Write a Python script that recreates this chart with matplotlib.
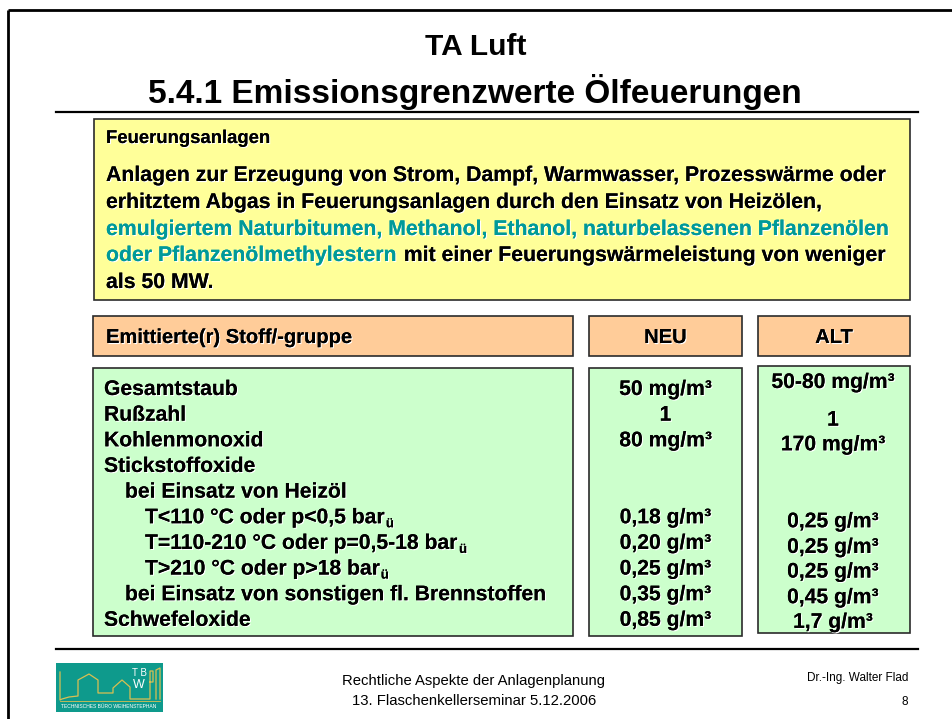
import matplotlib
matplotlib.use("Agg")
import matplotlib.pyplot as plt
import matplotlib.patches as mpatches
import matplotlib.patheffects as pe

plt.rcParams['font.family'] = ['Liberation Sans', 'DejaVu Sans']

# --- slide content ---
title_lines = ["TA Luft", "5.4.1 Emissionsgrenzwerte Ölfeuerungen"]
intro_heading = "Feuerungsanlagen"
# each line is a list of (text, highlighted?) segments
intro_lines = [
    [("Anlagen zur Erzeugung von Strom, Dampf, Warmwasser, Prozesswärme oder", False)],
    [("erhitztem Abgas in Feuerungsanlagen durch den Einsatz von Heizölen,", False)],
    [("emulgiertem Naturbitumen, Methanol, Ethanol, naturbelassenen Pflanzenölen", True)],
    [("oder Pflanzenölmethylestern", True), (" mit einer Feuerungswärmeleistung von weniger", False)],
    [("als 50 MW.", False)],
]
col_headers = ["Emittierte(r) Stoff/-gruppe", "NEU", "ALT"]
substances = ["Gesamtstaub", "Rußzahl", "Kohlenmonoxid", "Stickstoffoxide",
              "bei Einsatz von Heizöl",
              "T<110 °C oder p<0,5 bar", "T=110-210 °C oder p=0,5-18 bar",
              "T>210 °C oder p>18 bar",
              "bei Einsatz von sonstigen fl. Brennstoffen", "Schwefeloxide"]
indent_level = [0, 0, 0, 0, 1, 2, 2, 2, 1, 0]
subscripts = ["", "", "", "", "", "ü", "ü", "ü", "", ""]
neu_values = ["50 mg/m³", "1", "80 mg/m³", "", "", "0,18 g/m³", "0,20 g/m³",
              "0,25 g/m³", "0,35 g/m³", "0,85 g/m³"]
alt_values = ["50-80 mg/m³", "1", "170 mg/m³", "", "", "0,25 g/m³", "0,25 g/m³",
              "0,25 g/m³", "0,45 g/m³", "1,7 g/m³"]
footer_center = ["Rechtliche Aspekte der Anlagenplanung", "13. Flaschenkellerseminar 5.12.2006"]
footer_author = "Dr.-Ing. Walter Flad"
page_no = "8"

# --- styling ---
YELLOW = '#FFFF99'
ORANGE = '#FFCC99'
GREEN = '#CCFFCC'
TEAL = '#009999'
EDGE = '#2b2b2b'
shadow = [pe.withSimplePatchShadow(offset=(0.8, -0.8), shadow_rgbFace='white', alpha=1.0),
          pe.Normal()]

fig = plt.figure(figsize=(9.52, 7.19), dpi=100)
ax = fig.add_axes([0, 0, 1, 1])
ax.set_xlim(0, 952)
ax.set_ylim(719, 0)  # pixel-like coordinates, y going down
ax.axis('off')
renderer = fig.canvas.get_renderer()


def box(x0, y0, x1, y1, color):
    ax.add_patch(mpatches.Rectangle((x0, y0), x1 - x0, y1 - y0, facecolor=color,
                                    edgecolor=EDGE, linewidth=1.2, zorder=1))


def txt(x, y, s, size, ha='left', color='black', weight='bold', effects=True):
    t = ax.text(x, y, s, fontsize=size, ha=ha, va='baseline', color=color,
                fontweight=weight, zorder=3)
    if effects:
        t.set_path_effects(shadow)
    return t


def width_of(t):
    return t.get_window_extent(renderer=renderer).width


# slide frame
ax.plot([8, 8], [10, 719], color='black', lw=2.0, solid_capstyle='butt')
ax.plot([8, 952], [10, 10], color='black', lw=2.0, solid_capstyle='butt')

# title
txt(476, 55, title_lines[0], 21.5, ha='center', effects=False)
txt(475, 103, title_lines[1], 24, ha='center', effects=False)
ax.plot([56, 918], [112, 112], color='black', lw=1.6)

# intro box
box(94, 119, 910, 300, YELLOW)
txt(106, 143, intro_heading, 13.3)
intro_baselines = [181, 208, 235, 261, 288]
for line, yb in zip(intro_lines, intro_baselines):
    x = 106
    for seg, hl in line:
        t = txt(x, yb, seg, 15.3, color=TEAL if hl else 'black')
        x += width_of(t)

# header boxes
box(93, 316, 573, 356, ORANGE)
box(589, 316, 742, 356, ORANGE)
box(758, 316, 910, 356, ORANGE)
txt(106, 343, col_headers[0], 14.5)
txt(665.5, 343, col_headers[1], 14.5, ha='center')
txt(834, 343, col_headers[2], 14.5, ha='center')

# value boxes
box(93, 368, 573, 636, GREEN)
box(589, 368, 742, 636, GREEN)
box(758, 366, 910, 633, GREEN)

row0, row_step = 395, 25.65
indent_px = [104, 125, 145]
alt_shift = [-7, 5, 4, 0, 0, 4, 4, 3, 3, 2]  # ALT column sits slightly off the grid
for i, name in enumerate(substances):
    yb = row0 + i * row_step
    t = txt(indent_px[indent_level[i]], yb, name, 15.2)
    if subscripts[i]:
        x_end = indent_px[indent_level[i]] + width_of(t)
        txt(x_end + 0.5, yb + 4, subscripts[i], 9.5)
    if neu_values[i]:
        txt(665.5, yb, neu_values[i], 15.2, ha='center')
    if alt_values[i]:
        txt(833, yb + alt_shift[i], alt_values[i], 15.2, ha='center')

# footer
ax.plot([56, 918], [649, 649], color='black', lw=1.6)
txt(474, 685, footer_center[0], 10.7, ha='center', weight='normal', effects=False)
txt(474, 705, footer_center[1], 10.7, ha='center', weight='normal', effects=False)
txt(908, 681, footer_author, 8.5, ha='right', weight='normal', effects=False)
txt(908, 705, page_no, 8.5, ha='right', weight='normal', effects=False)

# logo (Technisches Büro Weihenstephan)
ax.add_patch(mpatches.Rectangle((56, 663), 107, 49, facecolor='#0E9A8C', edgecolor='none', zorder=1))
gold = '#D9BF52'
ax.plot([60, 60, 62, 69, 78, 78, 89, 98, 98, 113, 113, 122, 130, 130, 150, 150, 153, 153, 150],
        [672, 700, 699, 697, 696, 680, 674, 680, 693, 693, 688, 680, 687, 699, 699, 671, 671, 682, 682],
        color=gold, lw=0.9, zorder=2)
ax.plot([156, 156, 160, 160], [699, 670, 668, 699], color=gold, lw=0.9, zorder=2)
ax.plot([60, 160], [701, 701], color=gold, lw=0.6, zorder=2)
ax.text(139, 673, "T B", fontsize=7, color='white', ha='center', va='center', zorder=3)
ax.text(139, 685, "W", fontsize=9, color='white', ha='center', va='center', zorder=3)
ax.text(109, 707, "TECHNISCHES BÜRO WEIHENSTEPHAN", fontsize=3.6, color='white',
        ha='center', va='center', zorder=3)

fig.savefig("out.png", dpi=100)
